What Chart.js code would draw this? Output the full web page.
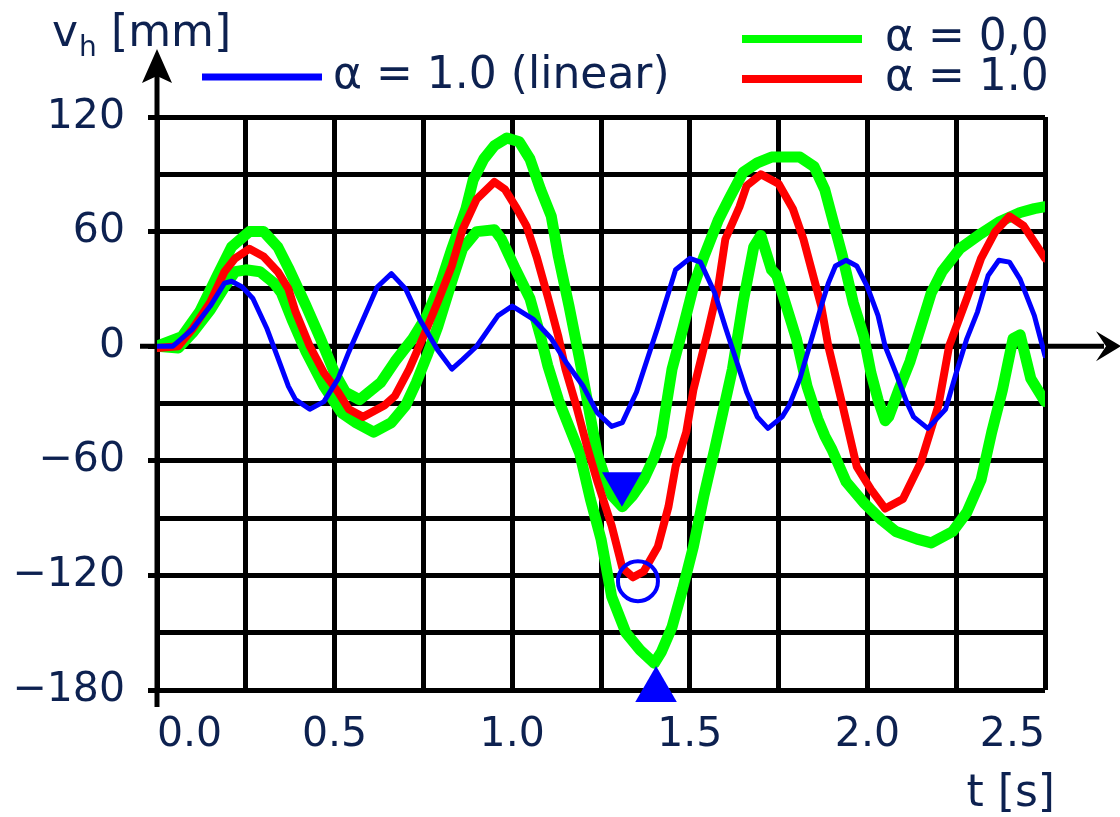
<!DOCTYPE html>
<html>
<head>
<meta charset="utf-8">
<script src="https://cdn.jsdelivr.net/npm/chart.js@4.4.1/dist/chart.umd.min.js"></script>
<style>
html,body{margin:0;padding:0;background:#fff;}
#wrap{width:1120px;height:817px;position:relative;}
</style>
</head>
<body>
<div id="wrap"><canvas id="c" width="1120" height="817"></canvas></div>
<script>
// ---- data ----
const blueT = [0,0.045,0.10,0.15,0.19,0.21,0.24,0.27,0.31,0.34,0.37,0.39,0.43,0.47,0.51,0.54,0.58,0.62,0.66,0.70,0.74,0.79,0.83,0.86,0.90,0.96,1.00,1.06,1.11,1.15,1.20,1.24,1.28,1.31,1.35,1.38,1.41,1.44,1.46,1.50,1.53,1.57,1.60,1.63,1.66,1.69,1.72,1.76,1.78,1.81,1.84,1.87,1.89,1.91,1.94,1.97,2.00,2.03,2.05,2.08,2.11,2.13,2.17,2.22,2.25,2.28,2.31,2.34,2.37,2.40,2.43,2.47,2.50];
const blueV = [0,0,9,21,33,34,31,25,9,-6,-21,-28,-33,-29,-17,-3,14,31,38,30,14,-2,-12,-7,0,16,21,14,4,-8,-21,-35,-42,-40,-24,-7,10,28,40,46,44,28,10,-7,-24,-37,-43,-37,-31,-17,2,21,33,42,45,42,31,16,0,-14,-29,-37,-43,-33,-14,4,18,37,45,44,35,16,-5];

const redT = [0,0.06,0.10,0.15,0.19,0.22,0.26,0.30,0.34,0.37,0.39,0.43,0.47,0.51,0.54,0.58,0.64,0.67,0.71,0.75,0.79,0.83,0.86,0.90,0.95,0.98,1.01,1.04,1.07,1.10,1.13,1.15,1.18,1.21,1.24,1.28,1.31,1.34,1.37,1.41,1.44,1.46,1.49,1.51,1.55,1.58,1.60,1.64,1.66,1.70,1.75,1.79,1.82,1.85,1.87,1.89,1.93,1.97,2.01,2.05,2.10,2.15,2.20,2.23,2.28,2.32,2.36,2.40,2.44,2.50];
const redV = [-1,0,9,23,39,46,51,47,39,30,18,0,-14,-24,-33,-37,-31,-26,-12,5,23,42,61,77,86,82,73,63,46,26,5,-12,-31,-52,-71,-94,-116,-121,-118,-105,-84,-63,-45,-23,7,31,56,73,84,90,85,72,56,35,21,0,-31,-63,-75,-85,-80,-61,-31,0,25,46,60,68,63,46];

const greenAT = [0,0.07,0.12,0.17,0.21,0.26,0.30,0.34,0.37,0.42,0.46,0.50,0.53,0.57,0.63,0.67,0.72,0.76,0.80,0.83,0.87,0.89,0.92,0.95,0.985,1.02,1.05,1.08,1.11,1.13,1.16,1.19,1.22,1.24,1.26,1.28,1.31,1.34,1.37,1.40,1.42,1.45,1.48,1.51,1.54,1.58,1.61,1.65,1.69,1.73,1.81,1.85,1.88,1.90,1.93,1.96,1.99,2.01,2.03,2.05,2.06,2.09,2.12,2.15,2.18,2.21,2.26,2.32,2.37,2.43,2.47,2.50];
const greenAV = [0,5,18,37,52,60,60,52,41,21,4,-14,-24,-28,-19,-8,4,16,34,51,72,87,98,105,109,107,98,82,68,47,21,-7,-37,-57,-68,-78,-84,-78,-70,-58,-47,-12,9,31,47,66,77,91,96,99,99,94,82,68,47,23,5,-14,-28,-39,-37,-22,-8,10,28,39,51,59,65,70,72,73];

const greenBT = [0,0.06,0.10,0.15,0.19,0.22,0.25,0.29,0.33,0.35,0.38,0.42,0.47,0.52,0.56,0.61,0.66,0.70,0.73,0.76,0.79,0.83,0.86,0.90,0.95,0.97,1.01,1.05,1.08,1.10,1.13,1.16,1.19,1.22,1.25,1.28,1.32,1.36,1.40,1.42,1.45,1.48,1.51,1.54,1.57,1.62,1.65,1.68,1.70,1.73,1.745,1.78,1.80,1.83,1.86,1.88,1.90,1.94,1.99,2.04,2.08,2.14,2.18,2.24,2.28,2.32,2.35,2.38,2.41,2.43,2.46,2.50];
const greenBV = [0,-1,7,19,31,39,40,39,33,28,14,-3,-21,-35,-40,-45,-40,-31,-19,-5,10,34,51,60,61,56,40,25,5,-10,-28,-42,-56,-80,-101,-131,-150,-159,-166,-160,-147,-127,-105,-78,-54,-12,23,52,58,40,37,16,4,-21,-38,-47,-54,-71,-82,-91,-97,-101,-103,-97,-87,-70,-45,-23,4,6,-17,-29];

const markerT = [1.309, 1.354, 1.405];
const markerV = [-72, -123, -180];

const seriesLabels = ['\u03b1 = 1.0 (linear)', '\u03b1 = 0,0', '\u03b1 = 1.0'];
const xTickLabels = ['0.0','0.5','1.0','1.5','2.0','2.5'];
const yTickLabels = ['\u2212180','\u2212120','\u221260','0','60','120'];

// ---- build ----
const pts = (T, V) => T.map((t, i) => ({x: t, y: V[i]}));
const NAVY = '#0d2150';
const FONT = '"DejaVu Sans", Verdana, sans-serif';

const ds = [
  {label: seriesLabels[1], data: pts(greenAT, greenAV), borderColor: '#00ff00', borderWidth: 11, order: 4},
  {label: seriesLabels[1], data: pts(greenBT, greenBV), borderColor: '#00ff00', borderWidth: 11, order: 3},
  {label: seriesLabels[2], data: pts(redT, redV), borderColor: '#ff0000', borderWidth: 8, order: 2},
  {label: seriesLabels[0], data: pts(blueT, blueV), borderColor: '#0000ff', borderWidth: 5, order: 1},
  {label: 'markers', data: pts(markerT, markerV), showLine: false, clip: false, order: 0,
   pointStyle: ['triangle','circle','triangle'], rotation: [180,0,0], pointRadius: [23,20,24],
   backgroundColor: ['#0000ff','rgba(0,0,0,0)','#0000ff'], borderColor: '#0000ff', pointBorderWidth: [0,4,0]}
];
ds.slice(0,4).forEach(d => { d.pointRadius = 0; d.tension = 0; d.fill = false; d.borderJoinStyle = 'round'; d.borderCapStyle = 'round'; });

function fmtX(v){ const i = Math.round(v/0.5); return Math.abs(v - i*0.5) < 1e-6 ? xTickLabels[i] : ''; }
function fmtY(v){ const i = Math.round((v+180)/60); return Math.abs(v - (i*60-180)) < 1e-6 ? yTickLabels[i] : ''; }

const decor = {
  id: 'decor',
  beforeDatasetsDraw(chart){
    const c = chart.ctx, a = chart.chartArea;
    const y0 = chart.scales.y.getPixelForValue(0);
    const x0 = chart.scales.x.getPixelForValue(0);
    c.save();
    c.strokeStyle = '#000'; c.fillStyle = '#000'; c.lineWidth = 5;
    // x axis
    c.beginPath(); c.moveTo(140, y0); c.lineTo(1104, y0); c.stroke();
    c.beginPath(); c.moveTo(1121, y0); c.lineTo(1096, y0-15); c.lineTo(1106, y0); c.lineTo(1096, y0+15); c.closePath(); c.fill();
    // y axis
    c.beginPath(); c.moveTo(x0, a.bottom+17); c.lineTo(x0, 66); c.stroke();
    c.beginPath(); c.moveTo(x0, 49); c.lineTo(x0-15, 83); c.lineTo(x0, 76); c.lineTo(x0+15, 83); c.closePath(); c.fill();
    c.restore();
  },
  afterDraw(chart){
    const c = chart.ctx;
    c.save();
    c.lineCap = 'butt';
    // legend
    const leg = [
      {x1:202, x2:322, y:77, w:7, col:'#0000ff', txt:seriesLabels[0], tx:333},
      {x1:742, x2:862, y:39, w:8, col:'#00ff00', txt:seriesLabels[1], tx:885},
      {x1:742, x2:862, y:79, w:8, col:'#ff0000', txt:seriesLabels[2], tx:885}
    ];
    c.font = '44px ' + FONT; c.textBaseline = 'middle'; c.textAlign = 'left';
    leg.forEach(l => {
      c.strokeStyle = l.col; c.lineWidth = l.w;
      c.beginPath(); c.moveTo(l.x1, l.y); c.lineTo(l.x2, l.y); c.stroke();
      c.fillStyle = NAVY; c.fillText(l.txt, l.tx, l.y);
    });
    // axis titles
    c.fillStyle = NAVY; c.textBaseline = 'alphabetic';
    c.font = '44px ' + FONT; c.fillText('v', 52, 46);
    c.font = '28px ' + FONT; c.fillText('h', 79, 56);
    c.font = '44px ' + FONT; c.fillText('[mm]', 111, 46);
    c.textAlign = 'right'; c.fillText('t [s]', 1055, 806);
    c.restore();
  }
};

new Chart(document.getElementById('c'), {
  type: 'line',
  data: {datasets: ds},
  options: {
    responsive: false, animation: false,
    layout: {padding: {top: 117, right: 75, left: 0, bottom: 0}},
    plugins: {legend: {display: false}, tooltip: {enabled: false}},
    scales: {
      x: {
        type: 'linear', min: 0, max: 2.5,
        afterFit(s){ s.height = 127; },
        border: {display: false},
        grid: {color: '#000', lineWidth: 5, drawTicks: false},
        ticks: {stepSize: 0.25, autoSkip: false, maxRotation: 0, align: 'inner', padding: 21,
                color: NAVY, font: {family: FONT, size: 41}, callback: fmtX}
      },
      y: {
        type: 'linear', min: -180, max: 120,
        afterFit(s){ s.width = 157; },
        border: {display: false},
        grid: {color: '#000', lineWidth: 5, tickLength: 9,
               tickColor: ctx => (fmtY(ctx.tick.value) !== '' ? '#000' : 'rgba(0,0,0,0)')},
        ticks: {stepSize: 30, autoSkip: false, padding: 23,
                color: NAVY, font: {family: FONT, size: 41}, callback: fmtY}
      }
    }
  },
  plugins: [decor]
});
</script>
</body>
</html>
